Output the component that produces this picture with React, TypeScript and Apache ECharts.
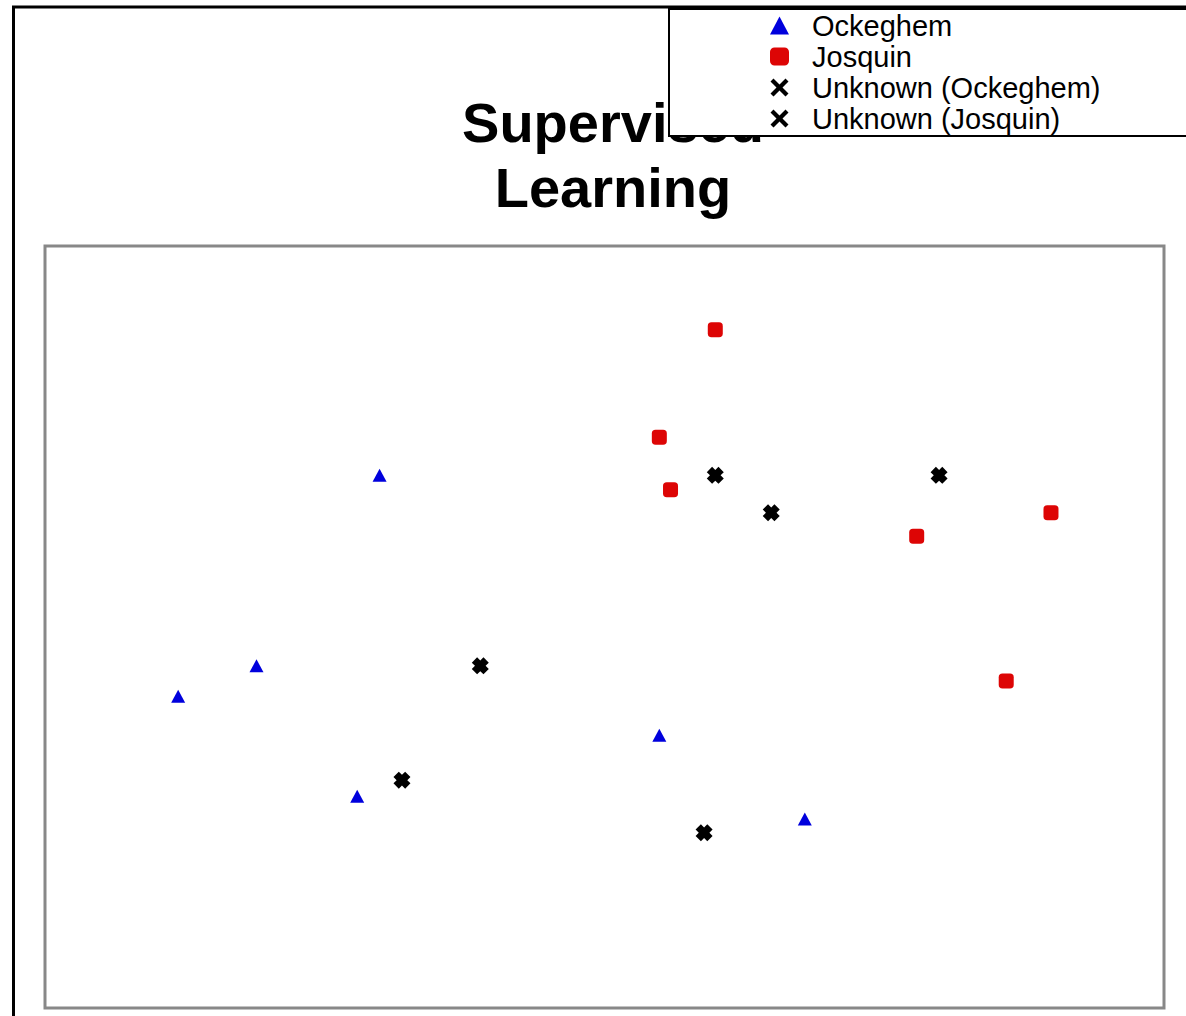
import React, { useEffect, useRef } from "react";
import * as echarts from "echarts";

const seriesNames = ["Ockeghem", "Josquin", "Unknown (Ockeghem)", "Unknown (Josquin)"];
const ockeghem: [number, number][] = [
  [29.9, 69.9], [18.9, 44.9], [11.9, 40.9], [27.9, 27.8], [54.9, 35.8], [67.9, 24.8],
];
const josquin: [number, number][] = [
  [59.9, 89.0], [54.9, 74.9], [55.9, 68.0], [77.9, 61.9], [89.9, 65.0], [85.9, 42.9],
];
const unknownOckeghem: [number, number][] = [
  [38.9, 44.9], [31.9, 29.9], [58.9, 23.0],
];
const unknownJosquin: [number, number][] = [
  [59.9, 69.9], [79.9, 69.9], [64.9, 65.0],
];
const titleText = "Supervised\nLearning";

const BLUE = "#0000dd";
const RED = "#dd0505";
const BLACK = "#000000";
const CROSS_PLOT = "path://M5,0 L8,3 L11,0 L16,5 L13,8 L16,11 L11,16 L8,13 L5,16 L0,11 L3,8 L0,5 Z";
const CROSS_LEGEND = "path://M3,0 L9,6 L15,0 L18,3 L12,9 L18,15 L15,18 L9,12 L3,18 L0,15 L6,9 L0,3 Z";

export default function App() {
  const ref = useRef<HTMLDivElement>(null);
  useEffect(() => {
    if (!ref.current) return;
    const chart = echarts.init(ref.current, null, { renderer: "svg" });
    chart.setOption({
      animation: false,
      backgroundColor: "#ffffff",
      title: {
        text: titleText,
        left: 608,
        top: 85,
        textAlign: "center",
        z: 1,
        textStyle: {
          fontFamily: "Liberation Sans, Arial, sans-serif",
          fontSize: 56,
          fontWeight: "bold",
          lineHeight: 65,
          color: "#000",
        },
      },
      graphic: [
        {
          type: "rect",
          z: 3,
          shape: { x: 13.5, y: 7, width: 2000, height: 2000 },
          style: { fill: "none", stroke: "#000", lineWidth: 3 },
        },
        {
          type: "rect",
          z: 5,
          shape: { x: 669, y: 9, width: 600, height: 127 },
          style: { fill: "#ffffff", stroke: "#000", lineWidth: 2 },
        },
      ],
      legend: {
        z: 10,
        orient: "vertical",
        left: 770,
        top: 10,
        padding: 0,
        itemGap: 0,
        itemWidth: 19,
        itemHeight: 18,
        textStyle: {
          fontFamily: "Liberation Sans, Arial, sans-serif",
          fontSize: 29,
          lineHeight: 31,
          color: "#000",
          padding: [0, 0, 0, 18],
        },
        data: [
          { name: seriesNames[0], icon: "triangle", itemStyle: { opacity: 1 } },
          { name: seriesNames[1], icon: "roundRect", itemStyle: { opacity: 1 } },
          { name: seriesNames[2], icon: CROSS_LEGEND, itemStyle: { opacity: 1 } },
          { name: seriesNames[3], icon: CROSS_LEGEND, itemStyle: { opacity: 1 } },
        ],
      },
      grid: {
        left: 45,
        top: 246,
        width: 1119,
        height: 762,
        show: true,
        borderColor: "#888888",
        borderWidth: 3,
        backgroundColor: "transparent",
      },
      xAxis: {
        type: "value",
        min: 0,
        max: 100,
        show: false,
        splitLine: { show: false },
      },
      yAxis: {
        type: "value",
        min: 0,
        max: 100,
        show: false,
        splitLine: { show: false },
      },
      series: [
        {
          name: seriesNames[0],
          type: "scatter",
          symbol: "triangle",
          symbolSize: [14, 13],
          itemStyle: { color: BLUE, opacity: 1 },
          data: ockeghem,
        },
        {
          name: seriesNames[1],
          type: "scatter",
          symbol: "roundRect",
          symbolSize: 15,
          itemStyle: { color: RED, opacity: 1 },
          data: josquin,
        },
        {
          name: seriesNames[2],
          type: "scatter",
          symbol: CROSS_PLOT,
          symbolSize: 17,
          itemStyle: { color: BLACK, opacity: 1 },
          data: unknownOckeghem,
        },
        {
          name: seriesNames[3],
          type: "scatter",
          symbol: CROSS_PLOT,
          symbolSize: 17,
          itemStyle: { color: BLACK, opacity: 1 },
          data: unknownJosquin,
        },
      ],
    });
    return () => chart.dispose();
  }, []);
  return (
    <div
      ref={ref}
      style={{ position: "absolute", left: 0, top: 0, width: 1186, height: 1016 }}
    />
  );
}
